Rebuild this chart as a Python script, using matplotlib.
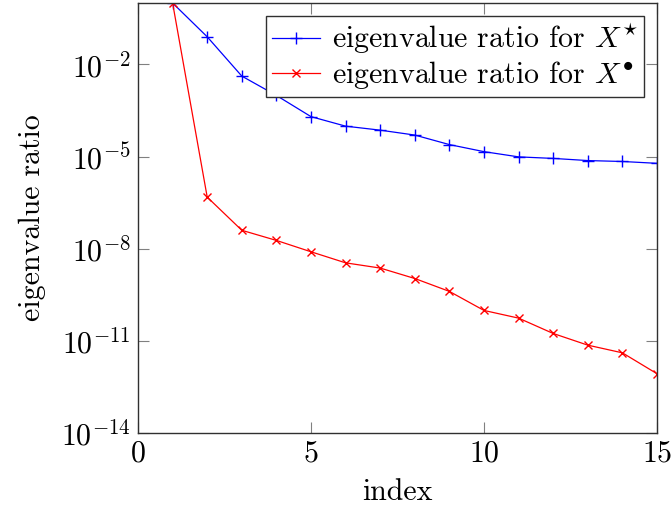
import numpy as np
import matplotlib
matplotlib.use("Agg")
import matplotlib.pyplot as plt

plt.rcParams['font.family'] = 'serif'
plt.rcParams['font.serif'] = ['cmr10']
plt.rcParams['mathtext.fontset'] = 'cm'
plt.rcParams['axes.formatter.use_mathtext'] = True

# data (log10 of the ratios)
index = np.arange(1, 16)
log_star = [0.0, -1.10, -2.38, -3.01, -3.70, -4.01, -4.14, -4.30, -4.61,
            -4.84, -5.01, -5.06, -5.13, -5.16, -5.22]
log_bullet = [0.0, -6.32, -7.40, -7.73, -8.10, -8.46, -8.63, -8.97, -9.39,
              -10.01, -10.26, -10.76, -11.14, -11.39, -12.07]
ratio_star = 10.0 ** np.array(log_star)
ratio_bullet = 10.0 ** np.array(log_bullet)

fs = 21.5

fig = plt.figure(figsize=(6.72, 5.14), dpi=100)
ax = fig.add_axes([138/672, 1 - 433/514, (657-138)/672, (433-3)/514])

ax.plot(index, ratio_star, color='blue', marker='+', markersize=8.5, lw=0.9,
        mew=1.0, label=r'eigenvalue ratio for $X^{\star}$')
ax.plot(index, ratio_bullet, color='red', marker='x', markersize=6, lw=0.9,
        mew=1.0, label=r'eigenvalue ratio for $X^{\bullet}$')

ax.set_yscale('log')
ax.set_xlim(0, 15)
ax.set_ylim(1e-14, 1)
ax.set_xticks([0, 5, 10, 15])
ax.set_yticks([1e-14, 1e-11, 1e-8, 1e-5, 1e-2])
ax.yaxis.set_minor_locator(matplotlib.ticker.NullLocator())
ax.tick_params(direction='in', length=8, width=0.8, color='#808080',
               top=True, right=True, labelsize=fs, pad=5)
for s in ax.spines.values():
    s.set_color('#303030')
    s.set_linewidth(1.0)

ax.set_xlabel('index', fontsize=fs, labelpad=8)
ax.set_ylabel('eigenvalue ratio', fontsize=fs, labelpad=11)

leg = ax.legend(loc='upper right', fontsize=fs, fancybox=False,
                edgecolor='#303030', framealpha=1, handlelength=1.6,
                borderaxespad=0.45, labelspacing=0.1, borderpad=0.2,
                handletextpad=0.4)
leg.get_frame().set_linewidth(1.0)

fig.savefig('out.png', dpi=100)
